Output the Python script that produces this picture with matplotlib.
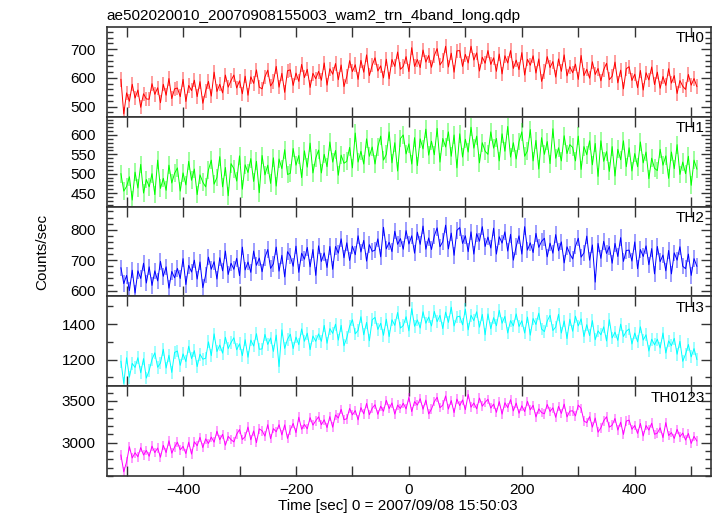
import matplotlib
matplotlib.use('Agg')
import matplotlib.pyplot as plt
from matplotlib.ticker import MultipleLocator
import numpy as np

plt.rcParams['font.family'] = ['Liberation Sans', 'DejaVu Sans']
plt.rcParams['font.size'] = 11

TITLE = 'ae502020010_20070908155003_wam2_trn_4band_long.qdp'
XLABEL = 'Time [sec] 0 = 2007/09/08 15:50:03'
YLABEL = 'Counts/sec'

bands = ['TH0', 'TH1', 'TH2', 'TH3', 'TH0123']
band_colors = ['#ff0000', '#00ff00', '#0000ff', '#00ffff', '#ff00ff']

# 5 s bin centres, -510 .. 510
time_sec = np.arange(-510, 511, 5)

# counts/sec
th0 = [595, 475, 548, 519, 578, 530, 558, 498, 545, 527,
       526, 580, 543, 566, 514, 578, 540, 598, 528, 562,
       565, 535, 595, 518, 574, 556, 592, 535, 587, 512,
       555, 588, 537, 620, 553, 578, 548, 610, 568, 591,
       610, 565, 590, 545, 606, 540, 604, 581, 628, 568,
       562, 604, 627, 572, 588, 640, 568, 616, 550, 625,
       628, 574, 617, 588, 647, 601, 630, 567, 616, 597,
       623, 592, 652, 575, 632, 613, 650, 594, 645, 570,
       605, 660, 622, 646, 595, 661, 620, 680, 608, 644,
       670, 624, 642, 600, 665, 597, 664, 640, 690, 630,
       640, 674, 622, 705, 640, 664, 636, 697, 655, 678,
       637, 678, 702, 645, 660, 710, 638, 686, 620, 694,
       695, 640, 682, 652, 710, 662, 687, 624, 672, 651,
       695, 647, 670, 623, 683, 614, 677, 652, 695, 633,
       662, 629, 688, 610, 665, 644, 677, 617, 666, 588,
       622, 674, 636, 657, 603, 666, 623, 680, 607, 639,
       618, 648, 595, 678, 608, 630, 599, 656, 612, 633,
       590, 629, 651, 594, 606, 655, 583, 627, 562, 632,
       639, 591, 613, 566, 626, 558, 618, 593, 638, 577,
       620, 564, 605, 574, 632, 582, 608, 546, 591, 571,
       560, 612, 575, 598, 570]

th1 = [500, 455, 467, 492, 432, 504, 463, 524, 450, 485,
       466, 500, 446, 535, 462, 488, 457, 522, 476, 501,
       515, 455, 502, 471, 532, 483, 512, 446, 497, 478,
       466, 510, 535, 473, 490, 544, 466, 516, 443, 526,
       513, 481, 546, 460, 523, 503, 539, 480, 532, 451,
       547, 497, 522, 475, 541, 468, 538, 513, 562, 498,
       501, 565, 522, 547, 490, 559, 517, 579, 502, 540,
       561, 502, 550, 518, 582, 530, 560, 496, 548, 527,
       532, 568, 515, 605, 530, 558, 525, 590, 545, 569,
       525, 570, 597, 535, 550, 608, 528, 580, 507, 591,
       600, 551, 577, 525, 593, 521, 590, 564, 615, 548,
       584, 549, 617, 530, 591, 569, 608, 545, 600, 515,
       603, 543, 589, 556, 620, 566, 597, 528, 580, 558,
       550, 608, 566, 591, 533, 603, 558, 622, 543, 580,
       538, 583, 608, 545, 559, 614, 533, 586, 512, 593,
       550, 583, 526, 616, 540, 567, 533, 598, 552, 575,
       568, 533, 597, 511, 570, 549, 585, 523, 578, 493,
       585, 532, 557, 506, 570, 494, 563, 536, 585, 518,
       567, 507, 552, 518, 582, 528, 556, 487, 540, 514,
       508, 563, 522, 546, 488, 556, 513, 575, 498, 530,
       500, 545, 470, 535, 512]

th2 = [675, 623, 650, 600, 667, 592, 665, 640, 690, 625,
       678, 617, 665, 632, 696, 647, 678, 608, 663, 642,
       673, 640, 705, 620, 683, 661, 700, 638, 694, 610,
       651, 710, 670, 695, 638, 708, 665, 730, 653, 690,
       670, 706, 649, 743, 668, 694, 660, 730, 683, 707,
       662, 709, 735, 673, 688, 743, 664, 716, 645, 728,
       713, 680, 746, 660, 723, 703, 742, 678, 735, 650,
       747, 696, 724, 676, 745, 670, 745, 723, 770, 708,
       757, 699, 746, 718, 780, 727, 765, 697, 751, 729,
       733, 770, 711, 808, 737, 759, 728, 795, 752, 771,
       736, 797, 753, 780, 723, 792, 752, 812, 736, 773,
       735, 780, 806, 744, 761, 815, 737, 789, 716, 798,
       807, 755, 780, 728, 793, 720, 787, 762, 810, 745,
       776, 740, 805, 720, 777, 756, 793, 730, 785, 700,
       745, 780, 720, 810, 733, 757, 725, 788, 742, 762,
       772, 711, 756, 723, 784, 731, 760, 691, 744, 721,
       704, 746, 772, 710, 724, 779, 700, 750, 628, 755,
       706, 762, 722, 745, 690, 755, 712, 774, 696, 732,
       733, 697, 760, 672, 735, 712, 747, 685, 738, 655,
       745, 695, 717, 665, 732, 655, 724, 700, 744, 680,
       672, 720, 650, 705, 680]

th3 = [1190, 1065, 1210, 1100, 1178, 1155, 1210, 1125, 1205, 1095,
       1138, 1201, 1238, 1156, 1180, 1258, 1152, 1224, 1127, 1240,
       1248, 1167, 1232, 1188, 1275, 1205, 1250, 1160, 1230, 1202,
       1207, 1300, 1222, 1345, 1245, 1282, 1236, 1326, 1262, 1296,
       1323, 1255, 1289, 1222, 1312, 1213, 1310, 1276, 1346, 1258,
       1260, 1342, 1285, 1322, 1246, 1338, 1160, 1368, 1263, 1315,
       1343, 1262, 1327, 1284, 1373, 1303, 1349, 1256, 1333, 1303,
       1345, 1303, 1393, 1292, 1375, 1348, 1400, 1310, 1393, 1278,
       1323, 1388, 1425, 1345, 1365, 1442, 1340, 1410, 1306, 1425,
       1438, 1370, 1405, 1337, 1428, 1330, 1425, 1393, 1466, 1378,
       1392, 1442, 1362, 1488, 1388, 1424, 1378, 1470, 1405, 1440,
       1390, 1472, 1414, 1450, 1375, 1468, 1410, 1496, 1390, 1441,
       1445, 1396, 1485, 1368, 1450, 1420, 1470, 1383, 1455, 1340,
       1458, 1374, 1437, 1391, 1478, 1405, 1444, 1350, 1420, 1390,
       1458, 1387, 1419, 1350, 1440, 1338, 1432, 1398, 1462, 1372,
       1358, 1418, 1450, 1364, 1384, 1456, 1350, 1418, 1318, 1428,
       1360, 1445, 1390, 1430, 1330, 1397, 1335, 1420, 1312, 1362,
       1340, 1385, 1305, 1425, 1322, 1355, 1308, 1400, 1330, 1360,
       1373, 1288, 1350, 1300, 1385, 1310, 1340, 1248, 1315, 1283,
       1315, 1265, 1350, 1237, 1305, 1278, 1320, 1230, 1303, 1190,
       1230, 1285, 1215, 1262, 1200]

th0123 = [2850, 2650, 2770, 2951, 2815, 2878, 2830, 2940, 2851, 2906,
          2836, 2958, 2880, 2935, 2824, 2968, 2880, 3022, 2873, 2947,
          3005, 2913, 2955, 2868, 3005, 2862, 3010, 2962, 3064, 2940,
          3045, 2990, 3066, 3005, 3137, 3035, 3100, 2968, 3075, 3035,
          3008, 3101, 3157, 3037, 3072, 3187, 3034, 3140, 2999, 3165,
          3142, 3078, 3215, 3047, 3168, 3130, 3215, 3092, 3213, 3050,
          3154, 3230, 3119, 3305, 3160, 3218, 3165, 3300, 3210, 3262,
          3310, 3215, 3274, 3180, 3312, 3185, 3332, 3295, 3400, 3276,
          3286, 3410, 3333, 3385, 3273, 3420, 3345, 3470, 3335, 3413,
          3455, 3339, 3437, 3376, 3508, 3408, 3476, 3342, 3450, 3410,
          3472, 3404, 3542, 3372, 3492, 3450, 3527, 3400, 3510, 3344,
          3403, 3492, 3544, 3419, 3450, 3560, 3403, 3505, 3360, 3523,
          3444, 3512, 3395, 3578, 3425, 3475, 3405, 3535, 3437, 3484,
          3520, 3414, 3462, 3363, 3492, 3342, 3478, 3420, 3516, 3380,
          3475, 3352, 3442, 3372, 3496, 3393, 3448, 3307, 3405, 3360,
          3346, 3458, 3373, 3418, 3303, 3435, 3350, 3462, 3308, 3378,
          3382, 3320, 3450, 3410, 3260, 3239, 3312, 3185, 3295, 3125,
          3178, 3262, 3310, 3185, 3210, 3290, 3150, 3245, 3098, 3258,
          3270, 3160, 3205, 3110, 3230, 3080, 3205, 3150, 3233, 3100,
          3114, 3178, 3060, 3240, 3085, 3120, 3050, 3160, 3070, 3115,
          3030, 3110, 2990, 3075, 3020]

# typical half length of the error bars in each band
band_errors = [25, 23, 27, 36, 57]

series = [th0, th1, th2, th3, th0123]
y_ranges = [(465, 777), (415, 647), (581, 876), (1049, 1557), (2599, 3677)]
y_major = [100, 50, 100, 200, 500]
y_minor = [20, 10, 20, 100, 100]

fig, axes = plt.subplots(5, 1, sharex=True, figsize=(7.17, 5.16), dpi=100)
fig.subplots_adjust(left=0.149, right=0.9916, top=0.9477, bottom=0.0775, hspace=0)

for i, ax in enumerate(axes):
    vals = np.array(series[i], dtype=float)
    # error bars in a lighter shade, data line on top
    ax.errorbar(time_sec, vals, yerr=band_errors[i], fmt='none',
                ecolor=band_colors[i], elinewidth=1.2, alpha=0.45, capsize=0)
    ax.plot(time_sec, vals, color=band_colors[i], lw=0.7)

    ax.set_ylim(*y_ranges[i])
    ax.set_xlim(-535, 535)
    ax.yaxis.set_major_locator(MultipleLocator(y_major[i]))
    ax.yaxis.set_minor_locator(MultipleLocator(y_minor[i]))
    ax.xaxis.set_major_locator(MultipleLocator(200))
    ax.xaxis.set_minor_locator(MultipleLocator(100))

    ax.tick_params(which='both', direction='in', top=True, right=True,
                   color='#333333', width=1.0)
    ax.tick_params(axis='y', which='major', length=7, pad=8)
    ax.tick_params(axis='y', which='minor', length=4)
    ax.tick_params(axis='x', which='both', length=7, pad=5)
    for sp in ax.spines.values():
        sp.set_color('#333333')
        sp.set_linewidth(1.2)

    ax.text(0.99, 0.95, bands[i], transform=ax.transAxes,
            ha='right', va='top', fontsize=11)

axes[0].set_title(TITLE, loc='left', fontsize=11, pad=5)
axes[-1].set_xlabel(XLABEL, fontsize=11)
axes[-1].xaxis.set_label_coords((398 - 107) / 604, -0.255)
fig.text(42 / 717, 0.5 * (0.9477 + 0.0775), YLABEL, rotation=90,
         ha='center', va='center', fontsize=11)

fig.savefig('out.png', dpi=100)
